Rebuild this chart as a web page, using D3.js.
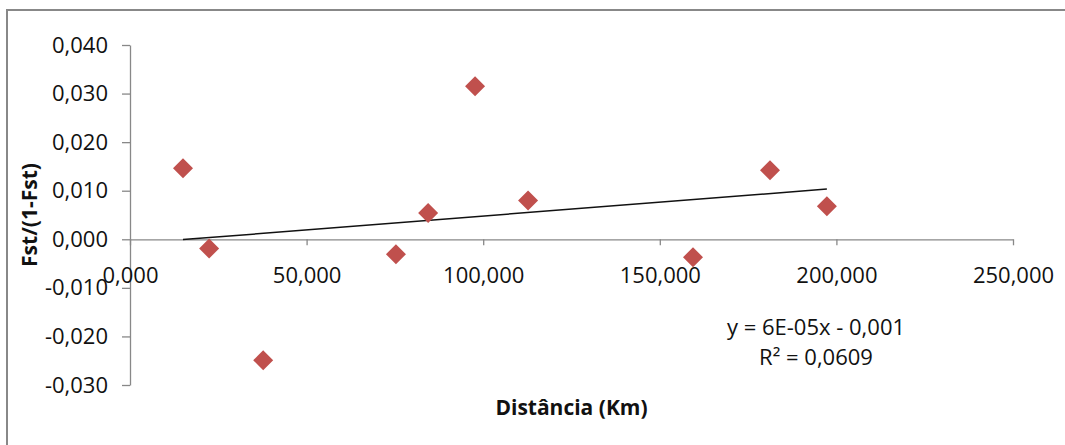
<!DOCTYPE html>
<html>
<head>
<meta charset="utf-8">
<script src="https://cdn.jsdelivr.net/npm/d3@7"></script>
<style>
  html, body { margin: 0; background: #fff; overflow: hidden; }
  svg { display: block; }
  svg text { font-family: "Open Sans", sans-serif; fill: #111; }
</style>
</head>
<body>
<div id="chart"></div>
<script>
// distance between populations (km) and Fst/(1-Fst)
var distancias = [15.0, 22.4, 37.7, 75.3, 84.4, 97.7, 112.7, 159.4, 181.2, 197.3];
var fstValues = [0.0146, -0.0019, -0.0249, -0.0031, 0.0054, 0.0315, 0.0080, -0.0037, 0.0142, 0.0068];
var xTicks = [0, 50, 100, 150, 200, 250];
var yTicks = [-0.03, -0.02, -0.01, 0, 0.01, 0.02, 0.03, 0.04];
var equationLines = ['y = 6E-05x - 0,001', 'R\u00b2 = 0,0609'];

var width = 1065, height = 445;
var fmt = function(v) {
  return d3.format('.3f')(v).replace('.', ',').replace('\u2212', '-');
};

var svg = d3.select('#chart').append('svg')
  .attr('width', width)
  .attr('height', height);

// chart area border (right and bottom edges fall outside the picture)
svg.append('path')
  .attr('d', 'M7,' + height + 'V10H' + width)
  .attr('fill', 'none')
  .attr('stroke', '#888')
  .attr('stroke-width', 2);

var x = d3.scaleLinear().domain([0, 250]).range([130, 1013]);
var y = d3.scaleLinear().domain([-0.03, 0.04]).range([385, 45]);

// y axis
var yAxis = svg.append('g')
  .attr('transform', 'translate(' + x(0) + ',0)')
  .call(d3.axisLeft(y).tickValues(yTicks).tickSize(8).tickSizeOuter(0).tickPadding(14).tickFormat(fmt));

// x axis sits on y = 0
var xAxis = svg.append('g')
  .attr('transform', 'translate(0,' + y(0) + ')')
  .call(d3.axisBottom(x).tickValues(xTicks).tickSize(6).tickSizeOuter(0).tickPadding(22).tickFormat(fmt));

[xAxis, yAxis].forEach(function(g) {
  g.select('.domain').attr('stroke', '#888').attr('stroke-width', 1.3);
  g.selectAll('.tick line').attr('stroke', '#888').attr('stroke-width', 1.3);
  g.selectAll('.tick text')
    .attr('fill', '#111')
    .style('font-family', '"Open Sans", sans-serif')
    .style('font-size', '22px');
});

// linear trend line (least squares)
var mx = d3.mean(distancias), my = d3.mean(fstValues);
var sxy = d3.sum(distancias, function(d, i) { return (d - mx) * (fstValues[i] - my); });
var sxx = d3.sum(distancias, function(d) { return (d - mx) * (d - mx); });
var slope = sxy / sxx, intercept = my - slope * mx;
var ext = d3.extent(distancias);

svg.append('path')
  .datum(ext)
  .attr('fill', 'none')
  .attr('stroke', '#111')
  .attr('stroke-width', 1.5)
  .attr('d', d3.line()
    .x(function(d) { return x(d); })
    .y(function(d) { return y(slope * d + intercept); }));

// diamond markers
svg.selectAll('.ponto')
  .data(distancias)
  .enter()
  .append('path')
  .attr('class', 'ponto')
  .attr('d', d3.symbol().type(d3.symbolSquare).size(200))
  .attr('fill', '#C0504D')
  .attr('transform', function(d, i) {
    return 'translate(' + x(d) + ',' + y(fstValues[i]) + ') rotate(45)';
  });

// equation label
svg.selectAll('.eq')
  .data(equationLines)
  .enter()
  .append('text')
  .attr('class', 'eq')
  .attr('x', 816)
  .attr('y', function(d, i) { return 335 + i * 30; })
  .attr('text-anchor', 'middle')
  .style('font-size', '22px')
  .text(function(d) { return d; });

// axis titles
svg.append('text')
  .attr('x', (x(0) + x(250)) / 2)
  .attr('y', 415)
  .attr('text-anchor', 'middle')
  .style('font-size', '21px')
  .style('font-weight', 'bold')
  .text('Dist\u00e2ncia (Km)');

svg.append('text')
  .attr('transform', 'translate(37,' + ((y(0.04) + y(-0.03)) / 2) + ') rotate(-90)')
  .attr('text-anchor', 'middle')
  .style('font-size', '21px')
  .style('font-weight', 'bold')
  .text('Fst/(1-Fst)');
</script>
</body>
</html>
